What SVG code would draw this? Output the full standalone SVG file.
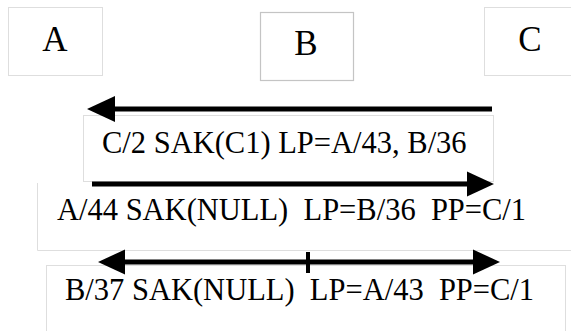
<svg xmlns="http://www.w3.org/2000/svg" width="571" height="331" viewBox="0 0 571 331">
<style>
.box{fill:#fff;stroke:#dedede;stroke-width:1}
.boxb{fill:#fff;stroke:#c4c4c4;stroke-width:1.2}
.lbl{font-family:'Liberation Serif','Times New Roman',Times,'DejaVu Serif',serif;font-size:35px;fill:#000;text-anchor:middle}
.msg{font-family:'Liberation Serif','Times New Roman',Times,'DejaVu Serif',serif;font-size:30.5px;fill:#000;white-space:pre}
.ln{stroke:#000;stroke-width:5;fill:none}
.hd{fill:#000}
</style>
<rect width="571" height="331" fill="#fff"/>
<g id="A"><rect class="box" x="8.5" y="7.5" width="94" height="68"/><text class="lbl" x="55" y="51">A</text></g>
<g id="B"><rect class="boxb" x="260.5" y="12.5" width="93" height="68"/><text class="lbl" x="306" y="55">B</text></g>
<g id="C"><rect class="box" x="484.5" y="7.5" width="100" height="68"/><text class="lbl" x="530" y="51">C</text></g>
<g id="msg1-box"><rect class="box" x="83.5" y="115.5" width="410" height="66"/></g>
<g id="msg2-box"><path class="box" d="M37.5 183 V250.5 H575" fill="none"/></g>
<g id="msg3-box"><rect class="box" x="46.5" y="265.5" width="519" height="80"/></g>
<g id="connectors">
<line class="ln" x1="492" y1="109" x2="112" y2="109"/>
<polygon class="hd" points="87,109 115,96 115,122"/>
<line class="ln" x1="92" y1="184" x2="470" y2="184"/>
<polygon class="hd" points="494,184 467,171.5 467,196.5"/>
<line class="ln" x1="122" y1="262" x2="476" y2="262"/>
<polygon class="hd" points="98,262 125,249.5 125,274.5"/>
<polygon class="hd" points="500,262 473,249.5 473,274.5"/>
<line x1="308" y1="252" x2="308" y2="273" stroke="#000" stroke-width="4"/>
</g>
<g id="labels">
<text class="msg" x="102" y="153" font-family="Liberation Serif, serif">C/2 SAK(C1) LP=A/43, B/36</text>
<text class="msg" x="57" y="220">A/44 SAK(NULL)  LP=B/36  PP=C/1</text>
<text class="msg" x="65" y="300">B/37 SAK(NULL)  LP=A/43  PP=C/1</text>
</g>
</svg>
